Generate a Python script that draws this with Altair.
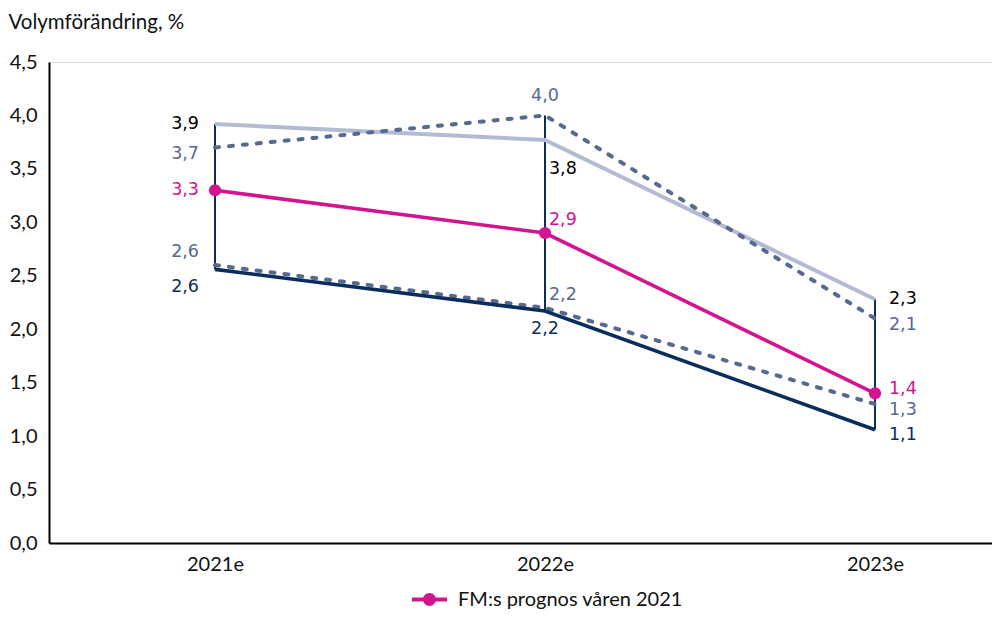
import altair as alt
import pandas as pd

years = ["2021e", "2022e", "2023e"]
hogsta = [3.92, 3.77, 2.28]      # light grey-blue solid
lagsta = [2.56, 2.17, 1.06]      # dark navy solid
ovre = [3.7, 4.0, 2.1]           # dashed upper
undre = [2.6, 2.2, 1.3]          # dashed lower
fm = [3.3, 2.9, 1.4]             # FM:s prognos våren 2021
fm_name = "FM:s prognos våren 2021"

C_GREY = "#b3bbd3"
C_SLATE = "#56698f"
C_NAVY = "#0b2d5b"
C_MAG = "#d3148f"
C_BLACK = "#000000"

series = {"hogsta": hogsta, "lagsta": lagsta, "ovre": ovre, "undre": undre, "fm": fm}
rows = []
for name, vals in series.items():
    for i, (yr, v) in enumerate(zip(years, vals)):
        rows.append({"idx": i, "year": yr, "series": name, "value": v,
                     "label": f"{v:.1f}".replace(".", ",")})
df = pd.DataFrame(rows)

rule_df = pd.DataFrame({
    "idx": list(range(len(years))),
    "low": lagsta,
    "high": [max(a, b) for a, b in zip(hogsta, ovre)],
})

W, H = 943, 481
xscale = alt.Scale(domain=[-0.503, -0.503 + W / 330.0], nice=False, zero=False)
yscale = alt.Scale(domain=[0, 4.5], nice=False)
label_expr = "[" + ",".join(f"'{y}'" for y in years) + "][datum.value]"

X = alt.X("idx:Q", scale=xscale, title=None,
          axis=alt.Axis(values=list(range(len(years))), labelExpr=label_expr, grid=False,
                        ticks=False, domainColor="#000", domainWidth=2, labelFont="Lato",
                        labelFontSize=20, labelColor="#111", labelPadding=11))
Y = alt.Y("value:Q", scale=yscale,
          axis=alt.Axis(values=[i * 0.5 for i in range(10)],
                        labelExpr="replace(format(datum.value, '.1f'), '.', ',')",
                        grid=False, ticks=False, domainColor="#000", domainWidth=2,
                        labelFont="Lato", labelFontSize=20, labelColor="#111", labelPadding=12,
                        title="Volymförändring, %", titleAngle=0, titleX=-41, titleY=-40,
                        titleAlign="left", titleBaseline="middle", titleFont="Lato",
                        titleFontSize=20.5, titleFontWeight="normal", titleColor="#111"))

base = alt.Chart(df)

rules = alt.Chart(rule_df).mark_rule(color=C_NAVY, strokeWidth=2).encode(
    x=alt.X("idx:Q", scale=xscale), y=alt.Y("low:Q", scale=yscale), y2="high:Q")

def line(name, color, width, dash=None):
    kw = dict(color=color, strokeWidth=width)
    if dash:
        kw["strokeDash"] = dash
        kw["strokeCap"] = "round"
    return base.transform_filter(alt.datum.series == name).mark_line(**kw).encode(x=X, y=Y)

l_grey = line("hogsta", C_GREY, 4)
l_ovre = line("ovre", C_SLATE, 4, [4, 10])
l_undre = line("undre", C_SLATE, 4, [4, 10])
l_navy = line("lagsta", C_NAVY, 3.6)
l_fm = line("fm", C_MAG, 3.6)

pts = base.transform_filter(alt.datum.series == "fm").transform_calculate(
    legend="'" + fm_name + "'").mark_point(filled=True, size=150, opacity=1).encode(
    x=alt.X("idx:Q", scale=xscale),
    y=alt.Y("value:Q", scale=yscale),
    color=alt.Color("legend:N", scale=alt.Scale(domain=[fm_name], range=[C_MAG]),
                    legend=alt.Legend(
                        orient="none", legendX=363, legendY=520, title=None, padding=0,
                        symbolType="M-1,-0.11L1,-0.11L1,0.11L-1,0.11Z M0.37,0A0.37,0.37 0 1,1 -0.37,0A0.37,0.37 0 1,1 0.37,0Z",
                        symbolSize=1225, symbolFillColor=C_MAG, symbolStrokeWidth=0,
                        symbolOpacity=1, labelFont="Lato", labelFontSize=20,
                        labelLimit=500, labelColor="#111", labelOffset=11)))

# label specs: (series, year index, color, align, dx, dy)
specs = [
    ("hogsta", 0, C_BLACK, "right", -16, 0),
    ("ovre", 0, C_SLATE, "right", -16, 6),
    ("fm", 0, C_MAG, "right", -16, 0),
    ("undre", 0, C_SLATE, "right", -16, -13),
    ("lagsta", 0, C_NAVY, "right", -16, 18),
    ("ovre", 1, C_SLATE, "center", 0, -19),
    ("hogsta", 1, C_BLACK, "left", 4, 29),
    ("fm", 1, C_MAG, "left", 4, -13),
    ("undre", 1, C_SLATE, "left", 4, -13),
    ("lagsta", 1, C_NAVY, "center", 0, 18),
    ("hogsta", 2, C_BLACK, "left", 14, 0),
    ("ovre", 2, C_SLATE, "left", 14, 6),
    ("fm", 2, C_MAG, "left", 14, -4),
    ("undre", 2, C_SLATE, "left", 14, 6),
    ("lagsta", 2, C_NAVY, "left", 14, 5),
]
texts = []
for s, i, col, al, dx, dy in specs:
    texts.append(base.transform_filter((alt.datum.series == s) & (alt.datum.idx == i))
                 .mark_text(color=col, align=al, baseline="middle", dx=dx, dy=dy,
                            font="DejaVu Sans", fontSize=17.5)
                 .encode(x=alt.X("idx:Q", scale=xscale), y=alt.Y("value:Q", scale=yscale),
                         text="label:N"))

chart = alt.layer(rules, l_grey, l_ovre, l_undre, l_navy, l_fm, pts, *texts).properties(
    width=W, height=H,
    autosize=alt.AutoSizeParams(type="none"),
    padding={"left": 41, "top": 54, "right": 0, "bottom": 69},
).configure_view(strokeWidth=0).configure(background="white")

chart.save("out.html", embed_options={"renderer": "svg", "actions": False})
